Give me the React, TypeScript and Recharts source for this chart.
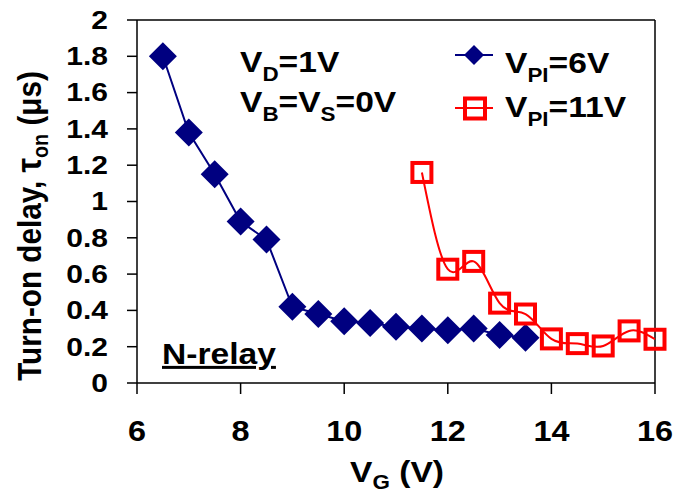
import React from 'react';
import { LineChart, Line, XAxis, YAxis, ReferenceLine } from 'recharts';

// V_PI = 6V series
const gateLow = [6.5, 7, 7.5, 8, 8.5, 9, 9.5, 10, 10.5, 11, 11.5, 12, 12.5, 13, 13.5];
const delayLow = [1.8, 1.38, 1.15, 0.89, 0.79, 0.42, 0.38, 0.34, 0.33, 0.31, 0.3, 0.29, 0.3, 0.265, 0.25];

// V_PI = 11V series
const gateHigh = [11.5, 12, 12.5, 13, 13.5, 14, 14.5, 15, 15.5, 16];
const delayHigh = [1.16, 0.627, 0.67, 0.44, 0.38, 0.243, 0.217, 0.204, 0.287, 0.241];

const xTicks = [6, 8, 10, 12, 14, 16];
const yTicks = [0, 0.2, 0.4, 0.6, 0.8, 1, 1.2, 1.4, 1.6, 1.8, 2];

const lowData = gateLow.map((vg, i) => ({ vg, ton: delayLow[i] }));
const highData = gateHigh.map((vg, i) => ({ vg, ton: delayHigh[i] }));

const NAVY = '#000080';
const RED = '#FF0000';
const FONT = '"Liberation Sans", Arial, sans-serif';
const SX = 1.12; // the original figure is a bit wide for its text height

const Diamond = (props: any) => {
  const { cx, cy, index } = props;
  if (cx == null || cy == null) return <g key={`d-${index}`} />;
  const r = 14;
  return (
    <polygon
      key={`d-${index}`}
      points={`${cx},${cy - r} ${cx + r},${cy} ${cx},${cy + r} ${cx - r},${cy}`}
      fill={NAVY}
      stroke="none"
    />
  );
};

const Square = (props: any) => {
  const { cx, cy, index } = props;
  if (cx == null || cy == null) return <g key={`s-${index}`} />;
  const s = 19;
  return (
    <rect key={`s-${index}`} x={cx - s / 2} y={cy - s / 2} width={s} height={s} fill="none" stroke={RED} strokeWidth={4} />
  );
};

const YTick = (props: any) => {
  const { x, y, payload } = props;
  return (
    <text transform={`translate(${x},${y}) scale(1.2,1)`} textAnchor="end" dy="0.355em" fontFamily={FONT} fontWeight="bold" fontSize={25} fill="#000">
      {payload.value}
    </text>
  );
};

const XTick = (props: any) => {
  const { x, y, payload } = props;
  return (
    <text transform={`translate(${x},${y}) scale(1.08,1)`} textAnchor="middle" dy="0.71em" fontFamily={FONT} fontWeight="bold" fontSize={30} fill="#000">
      {payload.value}
    </text>
  );
};

const YLabel = () => (
  <text x={0} y={0} transform="translate(41,226) rotate(-90) scale(0.9,1)" textAnchor="middle" fontFamily={FONT} fontWeight="bold" fontSize={33} fill="#000">
    Turn-on delay, <tspan fontSize={36}>τ</tspan>
    <tspan fontSize={22} dy={7}>on</tspan>
    <tspan dy={-7}> (μs)</tspan>
  </text>
);

const XLabel = () => (
  <text x={0} y={0} transform={`translate(397,482) scale(${SX},1)`} textAnchor="middle" fontFamily={FONT} fontWeight="bold" fontSize={30} fill="#000">
    V<tspan fontSize={20} dy={7}>G</tspan>
    <tspan dy={-7}> (V)</tspan>
  </text>
);

// parts: [text, isSubscript]
const SubText = ({ x, y, parts }: { x: number; y: number; parts: [string, boolean][] }) => (
  <text x={0} y={0} transform={`translate(${x},${y}) scale(${SX},1)`} fontFamily={FONT} fontWeight="bold" fontSize={30} fill="#000">
    {parts.map(([t, isSub], i) => {
      const prevSub = i > 0 && parts[i - 1][1];
      const dy = isSub ? 9 : prevSub ? -9 : 0;
      return (
        <tspan key={i} dy={dy} fontSize={isSub ? 20 : 30}>
          {t}
        </tspan>
      );
    })}
  </text>
);

export default function App() {
  return (
    <div style={{ position: 'absolute', left: 0, top: 0, width: 675, height: 495, background: '#fff' }}>
      <LineChart width={675} height={495} data={lowData} margin={{ top: 20, right: 20, bottom: 52, left: 0 }}>
        <XAxis
          dataKey="vg"
          type="number"
          domain={[6, 16]}
          ticks={xTicks}
          height={60}
          tickSize={11}
          tickMargin={26}
          stroke="#000"
          strokeWidth={1.5}
          tick={<XTick />}
          label={<XLabel />}
        />
        <YAxis
          type="number"
          domain={[0, 2]}
          ticks={yTicks}
          width={137}
          tickSize={10}
          tickMargin={19}
          stroke="#000"
          strokeWidth={1.5}
          interval={0}
          tick={<YTick />}
          label={<YLabel />}
        />
        <ReferenceLine y={2} stroke="#000" strokeWidth={1.5} />
        <ReferenceLine x={16} stroke="#000" strokeWidth={1.5} />
        <Line data={lowData} dataKey="ton" type="linear" stroke={NAVY} strokeWidth={2} dot={<Diamond />} isAnimationActive={false} />
        <Line data={highData} dataKey="ton" type="natural" stroke={RED} strokeWidth={2} dot={<Square />} isAnimationActive={false} />
      </LineChart>
      <svg width={675} height={495} style={{ position: 'absolute', left: 0, top: 0, pointerEvents: 'none' }}>
        <SubText x={240} y={72} parts={[['V', false], ['D', true], ['=1V', false]]} />
        <SubText x={240} y={112} parts={[['V', false], ['B', true], ['=V', false], ['S', true], ['=0V', false]]} />
        <line x1={455} y1={55} x2={493} y2={55} stroke={NAVY} strokeWidth={2} />
        <polygon points="474,45 484,55 474,65 464,55" fill={NAVY} />
        <SubText x={505} y={73} parts={[['V', false], ['PI', true], ['=6V', false]]} />
        <line x1={455} y1={108} x2={493} y2={108} stroke={RED} strokeWidth={2} />
        <rect x={465} y={98.5} width={20} height={20} fill="none" stroke={RED} strokeWidth={4} />
        <SubText x={505} y={117} parts={[['V', false], ['PI', true], ['=11V', false]]} />
        <text x={0} y={0} transform={`translate(162,364) scale(${SX},1)`} fontFamily={FONT} fontWeight="bold" fontSize={30} fill="#000" textDecoration="underline">
          N-relay
        </text>
      </svg>
    </div>
  );
}
